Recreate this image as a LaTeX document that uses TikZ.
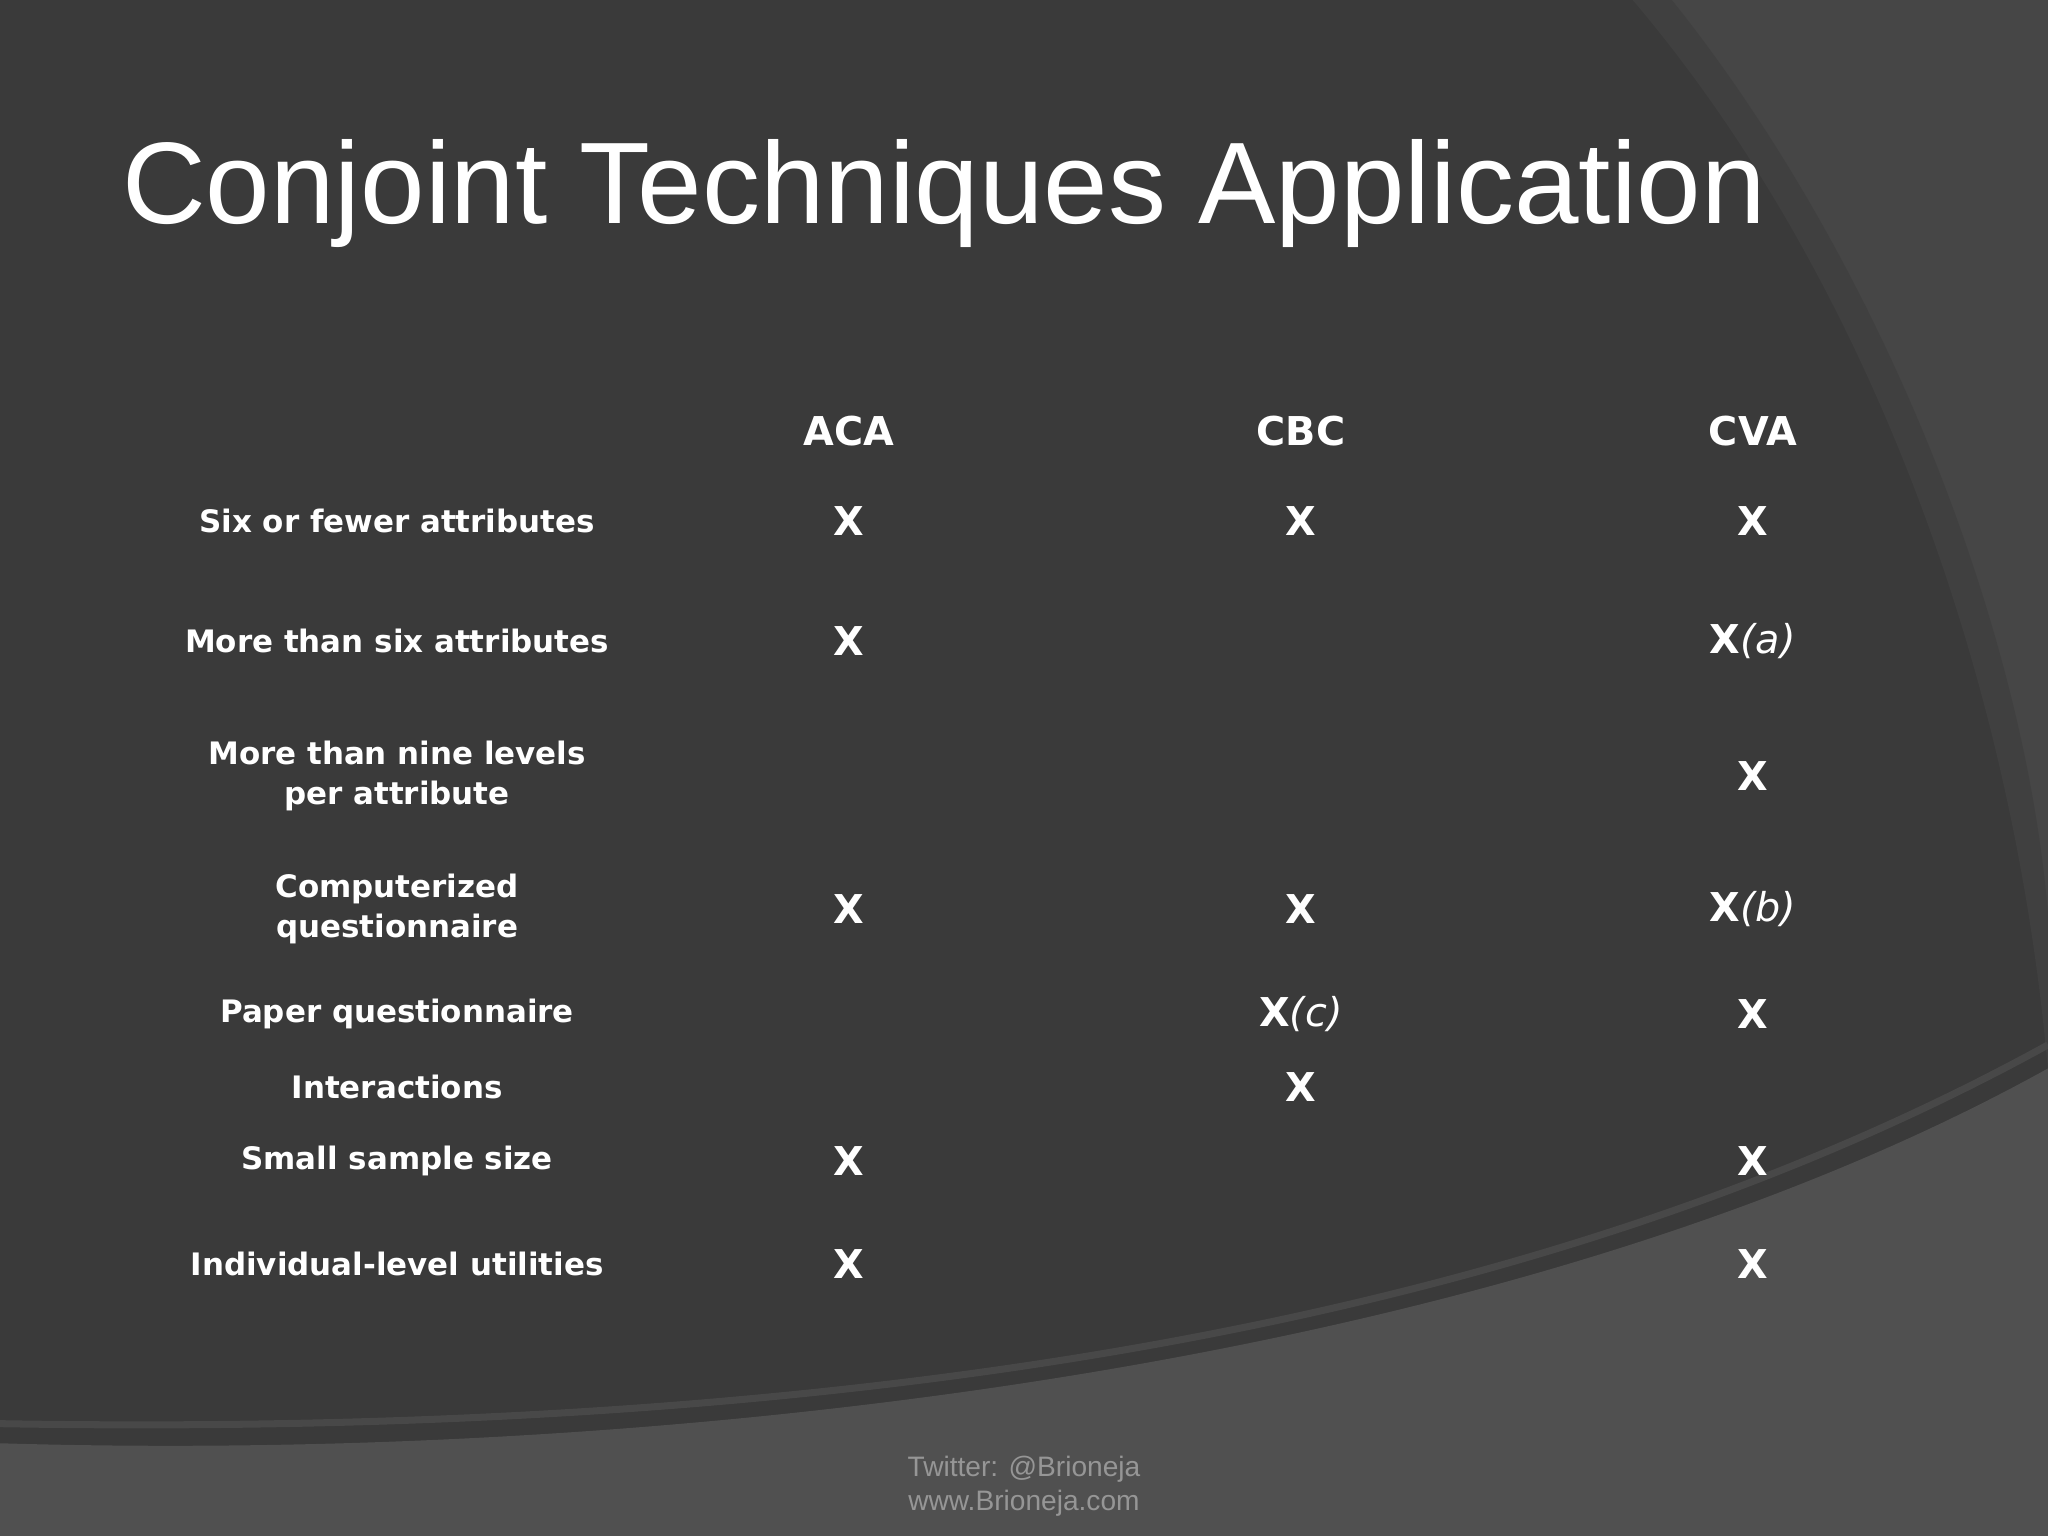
\documentclass[tikz,border=0pt]{standalone}
\usepackage{fontspec}
\setmainfont{Liberation Sans}
\newfontfamily\vfont{DejaVu Sans}
\begin{document}
\begin{tikzpicture}[x=0.013061cm,y=-0.013061cm,
  cell/.style={text=white,font=\vfont\bfseries\fontsize{11.3}{14}\selectfont,align=center},
  lab/.style={text=white,font=\vfont\bfseries\fontsize{8.8}{11.5}\selectfont,align=center}]
\fill[fill={rgb,255:red,58;green,58;blue,58}] (0,0) rectangle (1568,1176);
\useasboundingbox (0,0) rectangle (1568,1176);
% top-right lighter band
\fill[fill={rgb,255:red,70;green,70;blue,70}] (1250,0) .. controls (1400,150) and (1520,450) .. (1568,700) -- (1568,0) -- cycle;
\fill[fill={rgb,255:red,64;green,64;blue,64}] (1568,820) .. controls (1540,500) and (1420,200) .. (1250,0) -- (1280,0) .. controls (1440,200) and (1550,480) .. (1568,700) -- cycle;
% bottom lighter band
\fill[fill={rgb,255:red,80;green,80;blue,80}] (0,1105) .. controls (500,1120) and (1150,1050) .. (1568,818) -- (1568,1176) -- (0,1176) -- cycle;
\draw[draw={rgb,255:red,72;green,72;blue,72},line width=2pt] (0,1090) .. controls (600,1100) and (1150,1030) .. (1568,800);
\node[text=white,font=\fontsize{33}{38}\selectfont,anchor=west] (title) at (84,148) {Conjoint Techniques Application};
\foreach \n/\t/\x in {a/ACA/650,c/CBC/996,v/CVA/1342}{\node[cell] (h\n) at (\x,330) {\t};}
\node[lab] (r1) at (304,399) {Six or fewer attributes};
\node[lab] (r2) at (304,491) {More than six attributes};
\node[lab] (r3) at (304,594) {More than nine levels\\per attribute};
\node[lab] (r4) at (304,696) {Computerized\\questionnaire};
\node[lab] (r5) at (304,776) {Paper questionnaire};
\node[lab] (r6) at (304,832) {Interactions};
\node[lab] (r7) at (304,889) {Small sample size};
\node[lab] (r8) at (304,968) {Individual-level utilities};
\node[cell] (a1) at (650,399) {X}; \node[cell] (c1) at (996,399) {X}; \node[cell] (v1) at (1342,399) {X};
\node[cell] (a2) at (650,491) {X}; \node[cell] (v2) at (1342,491) {X\textmd{\itshape(a)}};
\node[cell] (v3) at (1342,594) {X};
\node[cell] (a4) at (650,696) {X}; \node[cell] (c4) at (996,696) {X}; \node[cell] (v4) at (1342,696) {X\textmd{\itshape(b)}};
\node[cell] (c5) at (996,776) {X\textmd{\itshape(c)}}; \node[cell] (v5) at (1342,776) {X};
\node[cell] (c6) at (996,832) {X};
\node[cell] (a7) at (650,889) {X}; \node[cell] (v7) at (1342,889) {X};
\node[cell] (a8) at (650,968) {X}; \node[cell] (v8) at (1342,968) {X};
\node[text={rgb,255:red,150;green,150;blue,150},font=\fontsize{8}{9.8}\selectfont,align=center] (foot) at (784,1138) {Twitter: @Brioneja\\www.Brioneja.com};
\end{tikzpicture}
\end{document}
